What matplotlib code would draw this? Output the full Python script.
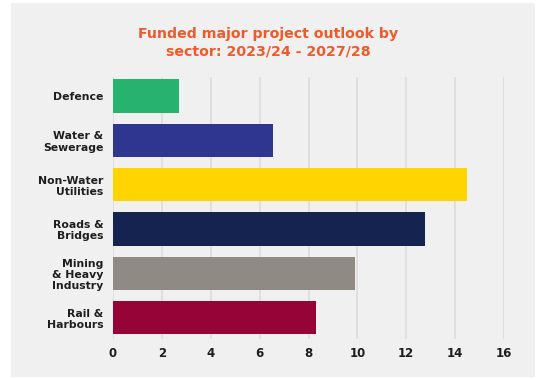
import matplotlib.pyplot as plt
from matplotlib.patches import Rectangle

# --- DATA ---
sectors = ['Defence', 'Water &\nSewerage', 'Non-Water\nUtilities', 'Roads &\nBridges',
           'Mining\n& Heavy\nIndustry', 'Rail &\nHarbours']
values = [2.7, 6.55, 14.5, 12.75, 9.9, 8.3]
colors = ['#27b36f', '#2e3690', '#ffd400', '#14234f', '#8f8a84', '#960337']
xticks = [0, 2, 4, 6, 8, 10, 12, 14, 16]

W, H = 539, 379
bg = '#f0f0f0'
txt = '#1e1e1e'

fig = plt.figure(figsize=(W / 100, H / 100), dpi=100)
fig.patch.set_facecolor('white')
# grey panel behind everything
fig.patches.append(Rectangle((11 / W, 1 - 377 / H), (535 - 11) / W, (377 - 3) / H,
                             transform=fig.transFigure, facecolor=bg, edgecolor='none', zorder=-10))

ax = fig.add_axes([113 / W, 1 - 339 / H, (504 - 113) / W, (339 - 77) / H])
ax.set_facecolor(bg)

ypos = list(range(len(sectors)))
ax.barh(ypos, values, height=0.755, color=colors, zorder=3)

ax.set_xlim(0, 16)
ax.set_ylim(5.48, -0.43)
ax.set_xticks(xticks)
ax.set_xticklabels([str(t) for t in xticks], fontsize=8.5, fontweight='bold', color=txt)
ax.set_yticks(ypos)
ax.set_yticklabels(sectors, fontsize=7.8, fontweight='bold', color=txt, linespacing=1.15)
ax.tick_params(length=0, pad=7)
ax.tick_params(axis='x', pad=6)
ax.grid(axis='x', color='#dcdcdc', linewidth=1.2, zorder=0)
for s in ax.spines.values():
    s.set_visible(False)

fig.text(268 / W, 1 - 43 / H, 'Funded major project outlook by\nsector: 2023/24 - 2027/28',
         ha='center', va='center', fontsize=10.2, fontweight='bold', color='#f05a2a',
         linespacing=1.35)

fig.savefig('out.png', dpi=100)
